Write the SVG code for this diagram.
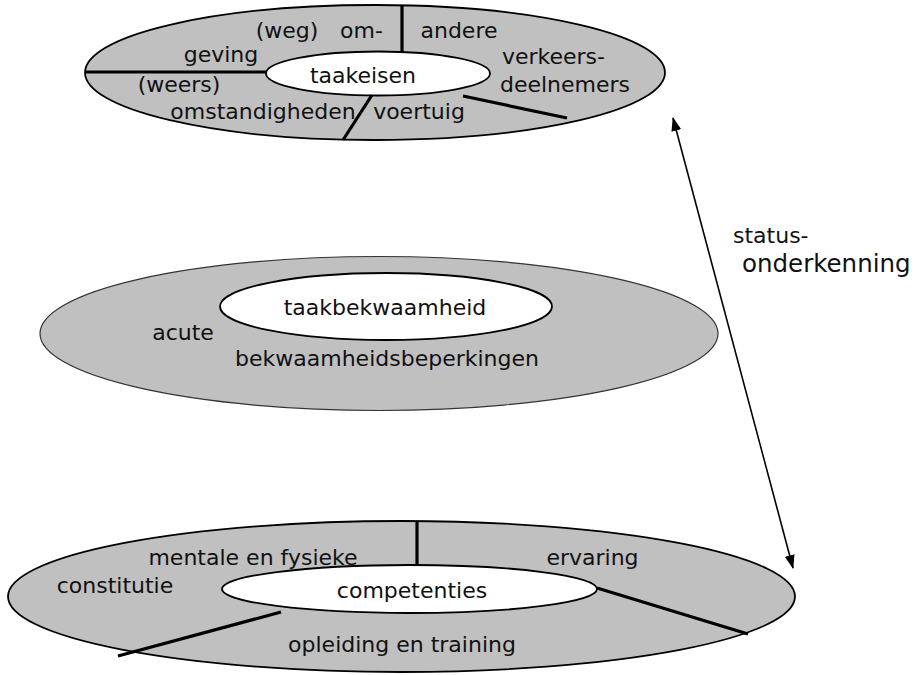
<svg xmlns="http://www.w3.org/2000/svg" width="920" height="675" viewBox="0 0 920 675">
<defs>
<style>
.outer{fill:#c0c0c0;stroke:#000;stroke-width:1.8}
.outerm{fill:#c0c0c0;stroke:#333;stroke-width:1.2}
.inner{fill:#fff;stroke:#000;stroke-width:1.8}
.div{stroke:#000;stroke-width:3.2;fill:none}
.t{font-family:"DejaVu Sans",Verdana,sans-serif;font-size:22px;fill:#111;text-anchor:middle}
.ts{font-family:"DejaVu Sans",Verdana,sans-serif;fill:#111}
.arrow{stroke:#000;stroke-width:1.6;fill:none}
</style>
<marker id="ah" viewBox="0 0 14 10" refX="13" refY="5" markerWidth="14" markerHeight="10" markerUnits="userSpaceOnUse" orient="auto-start-reverse">
<path d="M0,0 L14,5 L0,10 Z" fill="#000"/>
</marker>
</defs>
<g id="taakeisen-node">
<ellipse class="outer" cx="375" cy="72.5" rx="290" ry="67.5"/>
<ellipse class="inner" cx="378" cy="73.5" rx="112" ry="22"/>
<line class="div" x1="402" y1="5" x2="402" y2="52"/>
<line class="div" x1="86" y1="72" x2="266" y2="72"/>
<line class="div" x1="372" y1="95" x2="343" y2="140"/>
<line class="div" x1="463" y1="96" x2="567" y2="118"/>
<text class="t" x="287" y="38">(weg)</text>
<text class="t" x="361.5" y="38">om-</text>
<text class="t" x="459" y="38">andere</text>
<text class="t" x="221" y="62">geving</text>
<text class="t" x="553.5" y="64">verkeers-</text>
<text class="t" x="363" y="83">taakeisen</text>
<text class="t" x="179" y="92">(weers)</text>
<text class="t" x="565" y="92">deelnemers</text>
<text class="t" x="263" y="119">omstandigheden</text>
<text class="t" x="419" y="119">voertuig</text>
</g>
<g id="taakbekwaamheid-node">
<ellipse class="outerm" cx="379" cy="333.5" rx="339" ry="77"/>
<ellipse class="inner" cx="386" cy="306.5" rx="166" ry="33.5"/>
<text class="t" x="385" y="315">taakbekwaamheid</text>
<text class="t" x="183" y="340">acute</text>
<text class="t" x="387" y="366">bekwaamheidsbeperkingen</text>
</g>
<g id="competenties-node">
<ellipse class="outer" cx="401.5" cy="596.5" rx="393.5" ry="75.5"/>
<ellipse class="inner" cx="409.5" cy="589" rx="187.5" ry="24"/>
<line class="div" x1="417" y1="521" x2="417" y2="565"/>
<line class="div" x1="118" y1="656" x2="281" y2="612"/>
<line class="div" x1="597" y1="588" x2="748" y2="634"/>
<text class="t" x="253" y="565">mentale en fysieke</text>
<text class="t" x="592.5" y="565">ervaring</text>
<text class="t" x="115" y="593">constitutie</text>
<text class="t" x="412" y="598">competenties</text>
<text class="t" x="402" y="652">opleiding en training</text>
</g>
<g id="connectors">
<line class="arrow" x1="673" y1="118" x2="793" y2="568" marker-start="url(#ah)" marker-end="url(#ah)"/>
<text class="ts" x="733" y="243" font-size="22">status-</text>
<text class="ts" x="742" y="272" font-size="24.5">onderkenning</text>
</g>
</svg>
